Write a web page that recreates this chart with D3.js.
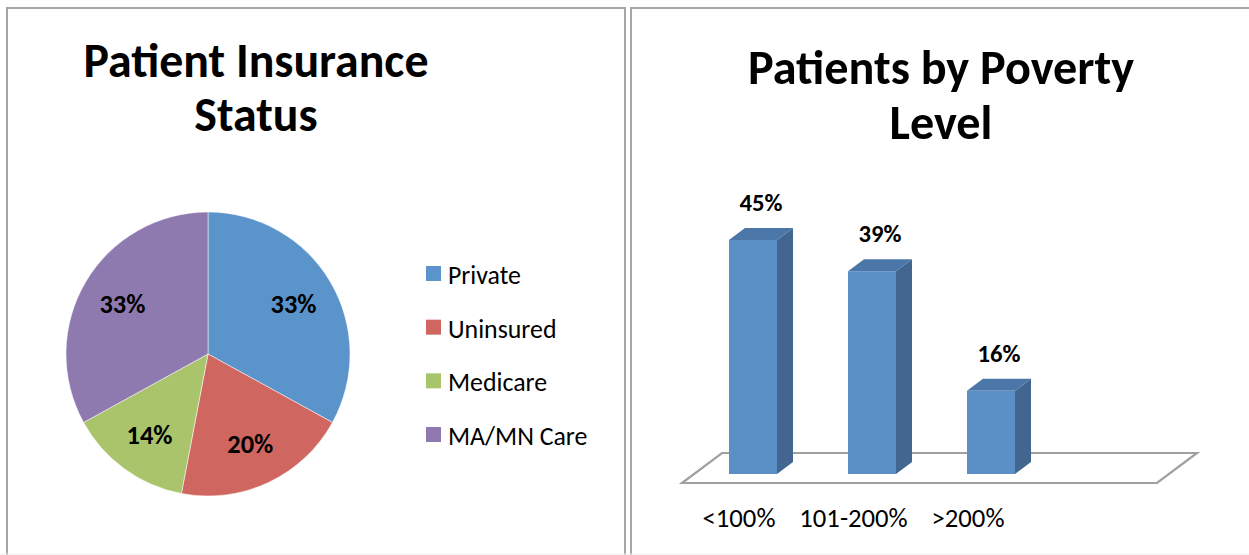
<!DOCTYPE html>
<html>
<head>
<meta charset="utf-8">
<script src="https://cdn.jsdelivr.net/npm/d3@7"></script>
<style>
  html, body { margin: 0; padding: 0; background: #fff; }
  svg { display: block; }
  text { font-family: Carlito, Lato, "Open Sans", sans-serif; fill: #000; }
</style>
</head>
<body>
<svg id="chart" width="1249" height="555"></svg>
<script>
// ---- data ----
const pieTitle = ["Patient Insurance", "Status"];
const pieCategories = ["Private", "Uninsured", "Medicare", "MA/MN Care"];
const pieValues = [33, 20, 14, 33];
const pieColors = ["#5B93CB", "#CF6660", "#A9C46B", "#8F7AB0"];

const barTitle = ["Patients by Poverty", "Level"];
const barCategories = ["<100%", "101-200%", ">200%"];
const barValues = [45, 39, 16];

const svg = d3.select("#chart");

// fit a text node's font-size so its width matches target; returns the size
function fit(sel, target) {
  const node = sel.node();
  const fs = parseFloat(sel.attr("font-size"));
  const w = node.getComputedTextLength();
  const nfs = (fs * target / w).toFixed(2);
  sel.attr("font-size", nfs);
  return nfs;
}
function fitGroup(sel, target) {
  const first = d3.select(sel.nodes()[0]);
  const fs = fit(first, target);
  sel.attr("font-size", fs);
}

// ---- panel borders ----
svg.append("rect").attr("x", 7).attr("y", 8).attr("width", 618).attr("height", 560)
  .attr("fill", "none").attr("stroke", "#a6a6a6").attr("stroke-width", 2);
svg.append("rect").attr("x", 631).attr("y", 8).attr("width", 640).attr("height", 560)
  .attr("fill", "none").attr("stroke", "#a6a6a6").attr("stroke-width", 2);
svg.append("line").attr("x1", 0).attr("x2", 1249).attr("y1", 554).attr("y2", 554)
  .attr("stroke", "#eeeeee").attr("stroke-width", 1);

// ---- left: pie ----
const t1 = svg.append("text").attr("x", 256).attr("y", 77).attr("text-anchor", "middle")
  .attr("font-weight", "bold").attr("font-size", 44).text(pieTitle[0]);
fit(t1, 345);
svg.append("text").attr("x", 256).attr("y", 131).attr("text-anchor", "middle")
  .attr("font-weight", "bold").attr("font-size", t1.attr("font-size")).text(pieTitle[1]);

const cx = 208, cy = 354, r = 142;
const pie = d3.pie().sort(null).value(d => d)(pieValues);
const arc = d3.arc().innerRadius(0).outerRadius(r);
const labelArc = d3.arc().innerRadius(r * 0.7).outerRadius(r * 0.7);
const color = d3.scaleOrdinal().domain(pieCategories).range(pieColors);

const pg = svg.append("g").attr("transform", `translate(${cx},${cy})`);
pg.selectAll("path").data(pie).join("path")
  .attr("d", arc)
  .attr("fill", (d, i) => color(pieCategories[i]))
  .attr("stroke", "#ffffff").attr("stroke-opacity", 0.5).attr("stroke-width", 1);

const pl = pg.selectAll("text").data(pie).join("text")
  .attr("transform", d => `translate(${labelArc.centroid(d)})`)
  .attr("text-anchor", "middle").attr("dy", "0.36em")
  .attr("font-weight", "bold").attr("font-size", 21)
  .text(d => d.value + "%");
fitGroup(pl, 46);

// legend
const lg = svg.append("g");
const ly = d3.scalePoint().domain(pieCategories).range([273.5, 434.5]);
const rows = lg.selectAll("g").data(pieCategories).join("g")
  .attr("transform", d => `translate(426,${ly(d)})`);
rows.append("rect").attr("x", 0).attr("y", -7.5).attr("width", 15).attr("height", 15)
  .attr("fill", d => color(d));
const ltexts = rows.append("text").attr("x", 22).attr("y", 10.5)
  .attr("font-size", 22).text(d => d);
fitGroup(ltexts, 73);

// ---- right: 3D bars ----
const t2 = svg.append("text").attr("x", 941).attr("y", 84).attr("text-anchor", "middle")
  .attr("font-weight", "bold").attr("font-size", 44).text(barTitle[0]);
fit(t2, 386);
svg.append("text").attr("x", 941).attr("y", 139).attr("text-anchor", "middle")
  .attr("font-weight", "bold").attr("font-size", t2.attr("font-size")).text(barTitle[1]);

const dx = 16, dy = 12;
const x = d3.scaleBand().domain(barCategories).range([729, 1015]).paddingInner(71 / 119).paddingOuter(0);
const y = d3.scaleLinear().domain([0, 45]).range([474, 240]);

// floor
const floorFront = 483, floorBack = 453;
const fl = 682, fr = 1157, fdx = 40;
svg.append("path")
  .attr("d", `M${fl},${floorFront}L${fr},${floorFront}L${fr + fdx},${floorBack}L${fl + fdx},${floorBack}Z`)
  .attr("fill", "none").attr("stroke", "#a0a0a0").attr("stroke-width", 2.2);

const bg = svg.append("g");
const bars = bg.selectAll("g").data(barValues.map((v, i) => ({ cat: barCategories[i], v })))
  .join("g");
const bw = x.bandwidth();
// side
bars.append("path").attr("d", d => {
  const x0 = x(d.cat) + bw, yt = y(d.v), yb = y(0);
  return `M${x0},${yt}L${x0 + dx},${yt - dy}L${x0 + dx},${yb - dy}L${x0},${yb}Z`;
}).attr("fill", "#42668F");
// top
bars.append("path").attr("d", d => {
  const x0 = x(d.cat), yt = y(d.v);
  return `M${x0},${yt}L${x0 + dx},${yt - dy}L${x0 + bw + dx},${yt - dy}L${x0 + bw},${yt}Z`;
}).attr("fill", "#4A76A8");
// front
bars.append("rect")
  .attr("x", d => x(d.cat)).attr("y", d => y(d.v))
  .attr("width", bw).attr("height", d => y(0) - y(d.v))
  .attr("fill", "#5B90C6");
// value labels
const vl = bars.append("text")
  .attr("x", d => x(d.cat) + (bw + dx) / 2)
  .attr("y", d => y(d.v) - dy - 17)
  .attr("text-anchor", "middle").attr("font-weight", "bold").attr("font-size", 22)
  .text(d => d.v + "%");
fitGroup(vl, 43);

// category labels along the floor front edge
const xl = d3.scalePoint().domain(barCategories).range([739, 968]);
const cl = svg.append("g").selectAll("text").data(barCategories).join("text")
  .attr("x", d => xl(d)).attr("y", 527).attr("text-anchor", "middle")
  .attr("font-size", 21).text(d => d);
fitGroup(cl, 73);
</script>
</body>
</html>
